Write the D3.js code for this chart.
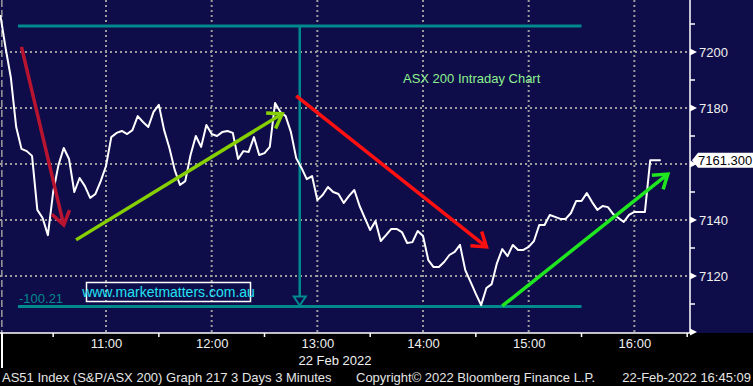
<!DOCTYPE html>
<html>
<head>
<meta charset="utf-8">
<script src="https://cdn.jsdelivr.net/npm/d3@7"></script>
<style>
  html, body { margin: 0; padding: 0; background: #000; }
  svg { display: block; font-family: "Liberation Sans", Arial, sans-serif; }
</style>
</head>
<body>
<div id="chart"></div>
<script>
const settings = {
  width: 753,
  height: 386,
  plot_right: 690,
  plot_bottom: 333,
  bg: "#0f0c4a",
  grid: "#9c9c9c",
  teal: "#008a8e",
}

// ASX 200, 3 minute closes from 10:00 on 22 Feb 2022
const startTime = "10:00";
const barMinutes = 3;
const closes = [
  7213.2, 7201.4, 7190.7, 7173.2, 7165.4, 7164.6, 7162.9, 7143.6, 7140.7, 7134.6,
  7150.0, 7159.6, 7165.7, 7161.8, 7150.0, 7155.0, 7152.1, 7147.9, 7149.3, 7153.9,
  7159.3, 7169.6, 7171.1, 7171.8, 7170.7, 7172.1, 7177.1, 7175.0, 7173.2, 7178.6,
  7181.1, 7172.1, 7165.7, 7157.9, 7152.5, 7153.9, 7163.2, 7170.0, 7166.1, 7173.9,
  7170.7, 7170.0, 7171.4, 7171.8, 7171.1, 7161.8, 7164.6, 7164.3, 7169.6, 7163.2,
  7163.9, 7166.1, 7181.8, 7178.6, 7177.1, 7171.4, 7162.1, 7158.6, 7154.6, 7155.7,
  7147.1, 7148.9, 7151.8, 7150.0, 7149.3, 7146.1, 7148.6, 7150.7, 7145.0, 7140.7,
  7136.4, 7139.6, 7132.5, 7134.6, 7136.8, 7136.8, 7135.7, 7131.8, 7132.1, 7136.1,
  7134.3, 7125.7, 7123.2, 7123.2, 7125.0, 7127.5, 7128.6, 7131.1, 7122.1, 7117.9,
  7113.6, 7109.6, 7115.7, 7117.1, 7124.6, 7129.6, 7127.1, 7131.1, 7129.3, 7129.3,
  7130.4, 7132.5, 7138.2, 7138.2, 7141.8, 7141.1, 7140.4, 7140.4, 7142.5, 7146.8,
  7146.8, 7149.6, 7146.4, 7143.6, 7145.0, 7144.6, 7142.1, 7140.7, 7139.3, 7141.8,
  7142.9, 7142.9, 7142.9, 7161.3, 7161.3, 7161.3
];
const lastPrice = "7161.300";

const timeLabels = ["11:00", "12:00", "13:00", "14:00", "15:00", "16:00"];
const halfHourTicks = ["10:30", "11:30", "12:30", "13:30", "14:30", "15:30", "16:30"];
const priceGrid = [7120, 7140, 7160, 7180, 7200];
const priceLabels = [7120, 7140, 7180, 7200]; // 7160 sits under the last price tag
const priceMinorTicks = [7110, 7130, 7150, 7170, 7190, 7210];
const dateLabel = "22 Feb 2022";

// range box: day high / low and the drop between them
const rangeHigh = 7209.30;
const rangeLow = 7109.09;
const rangeFrom = "10:10";
const rangeTo = "15:30";
const dropAt = "12:50";
const dropLabel = "-100.21";

// trend arrows [time, price] -> [time, price]
const arrows = [
  { from: ["10:12", 7201.8], to: ["10:36", 7138.2], color: "#b8142f" },
  { from: ["10:43", 7132.9], to: ["12:40", 7177.9], color: "#86cf00" },
  { from: ["12:48", 7184.3], to: ["14:36", 7130.4], color: "#ff1010" },
  { from: ["14:45", 7109.3], to: ["16:19", 7156.4], color: "#20e620" },
];

const chartTitle = "ASX 200 Intraday Chart";
const watermark = "www.marketmatters.com.au";
const footer = [
  "AS51 Index (S&P/ASX 200) Graph 217 3 Days 3 Minutes",
  "Copyright\u00a9 2022 Bloomberg Finance L.P.",
  "22-Feb-2022 16:45:09"
];

/****** helpers ********/
const toMin = function(t) {
  const p = t.split(":");
  return (+p[0] - 10) * 60 + (+p[1]);
}

const svg = d3.select("#chart").append("svg")
  .attr("width", settings.width)
  .attr("height", settings.height);

const x = d3.scaleLinear().domain([0, 391.6]).range([0.34, settings.plot_right]);
const y = d3.scaleLinear().domain([7100, 7218.57]).range([332, 0]);

// backgrounds
svg.append("rect").attr("width", settings.width).attr("height", settings.height).attr("fill", "#000");
svg.append("rect").attr("width", settings.width).attr("height", settings.plot_bottom).attr("fill", settings.bg);

// grid
const grid = svg.append("g");
grid.selectAll(".vg").data(timeLabels).join("line")
  .attr("x1", d => x(toMin(d))).attr("x2", d => x(toMin(d)))
  .attr("y1", 0).attr("y2", settings.plot_bottom)
  .attr("stroke", settings.grid).attr("stroke-width", 2).attr("stroke-dasharray", "2,3");
grid.selectAll(".hg").data(priceGrid).join("line")
  .attr("x1", 0).attr("x2", settings.plot_right)
  .attr("y1", d => y(d)).attr("y2", d => y(d))
  .attr("stroke", settings.grid).attr("stroke-width", 2).attr("stroke-dasharray", "2,3");
// day separator
grid.append("line")
  .attr("x1", x(toMin(startTime)) + 1.5).attr("x2", x(toMin(startTime)) + 1.5)
  .attr("y1", 0).attr("y2", settings.plot_bottom)
  .attr("stroke", settings.grid).attr("stroke-width", 1.5).attr("stroke-dasharray", "7,3");
svg.append("line")
  .attr("x1", 2).attr("x2", 2).attr("y1", settings.plot_bottom).attr("y2", 368)
  .attr("stroke", "#fff").attr("stroke-width", 2);

// range box lines
const teal = svg.append("g").attr("stroke", settings.teal).attr("fill", "none");
[rangeHigh, rangeLow].forEach(v => {
  teal.append("line")
    .attr("x1", x(toMin(rangeFrom))).attr("x2", x(toMin(rangeTo)))
    .attr("y1", y(v)).attr("y2", y(v)).attr("stroke-width", 3);
});
const dx = x(toMin(dropAt));
teal.append("line")
  .attr("x1", dx).attr("x2", dx).attr("y1", y(rangeHigh)).attr("y2", y(rangeLow) - 10)
  .attr("stroke-width", 2.5);
teal.append("path")
  .attr("d", `M${dx - 6},${y(rangeLow) - 10}L${dx + 6},${y(rangeLow) - 10}L${dx},${y(rangeLow) - 1}Z`)
  .attr("stroke-width", 2);
svg.append("text")
  .attr("x", 19).attr("y", y(rangeLow) - 4)
  .attr("fill", settings.teal).attr("font-size", 13)
  .text(dropLabel);

// price line
const line = d3.line()
  .x((d, i) => x(toMin(startTime) + i * barMinutes))
  .y(d => y(d));
svg.append("path")
  .datum(closes)
  .attr("d", line)
  .attr("fill", "none").attr("stroke", "#fff").attr("stroke-width", 2)
  .attr("stroke-linejoin", "round");

// arrows
const drawArrow = function(a) {
  const x1 = x(toMin(a.from[0])), y1 = y(a.from[1]);
  const x2 = x(toMin(a.to[0])), y2 = y(a.to[1]);
  const ang = Math.atan2(y2 - y1, x2 - x1);
  const len = 16, spread = 0.6;
  const g = svg.append("g").attr("stroke", a.color).attr("stroke-width", 3.5).attr("fill", "none");
  g.append("line").attr("x1", x1).attr("y1", y1).attr("x2", x2).attr("y2", y2);
  g.append("path")
    .attr("d", `M${x2 - len * Math.cos(ang - spread)},${y2 - len * Math.sin(ang - spread)}L${x2},${y2}L${x2 - len * Math.cos(ang + spread)},${y2 - len * Math.sin(ang + spread)}`)
    .attr("stroke-linejoin", "miter");
}
arrows.forEach(drawArrow);

// axes
svg.append("line")
  .attr("x1", 0).attr("x2", settings.plot_right)
  .attr("y1", settings.plot_bottom).attr("y2", settings.plot_bottom)
  .attr("stroke", "#fff").attr("stroke-width", 1.5);
svg.append("line")
  .attr("x1", settings.plot_right).attr("x2", settings.plot_right)
  .attr("y1", 0).attr("y2", settings.plot_bottom)
  .attr("stroke", "#fff").attr("stroke-width", 1.5);

const xAxis = d3.axisBottom(x)
  .tickValues(timeLabels.map(toMin))
  .tickFormat((d, i) => timeLabels[i])
  .tickSize(0).tickPadding(6);
const xg = svg.append("g").attr("transform", `translate(0,${settings.plot_bottom})`).call(xAxis);
xg.select(".domain").remove();
xg.selectAll("text").attr("fill", "#f0f0f0").attr("font-size", 13).attr("font-family", "Liberation Sans, Arial, sans-serif");

svg.selectAll(".hh").data(halfHourTicks).join("line")
  .attr("x1", d => x(toMin(d))).attr("x2", d => x(toMin(d)))
  .attr("y1", settings.plot_bottom).attr("y2", settings.plot_bottom + 4)
  .attr("stroke", "#fff").attr("stroke-width", 1.5);

svg.append("text")
  .attr("x", 335).attr("y", 365).attr("text-anchor", "middle")
  .attr("fill", "#f0f0f0").attr("font-size", 13)
  .text(dateLabel);

const yAxis = d3.axisRight(y).tickValues(priceLabels).tickFormat(d3.format("d")).tickSize(0).tickPadding(9);
const yg = svg.append("g").attr("transform", `translate(${settings.plot_right},0)`).call(yAxis);
yg.select(".domain").remove();
yg.selectAll("text").attr("fill", "#f0f0f0").attr("font-size", 13).attr("font-family", "Liberation Sans, Arial, sans-serif");

svg.selectAll(".tri").data(priceGrid.concat([7100])).join("path")
  .attr("d", d => `M${settings.plot_right},${y(d) - 3.5}L${settings.plot_right + 7},${y(d)}L${settings.plot_right},${y(d) + 3.5}Z`)
  .attr("fill", "#fff");
svg.selectAll(".ymin").data(priceMinorTicks).join("line")
  .attr("x1", settings.plot_right).attr("x2", settings.plot_right + 5)
  .attr("y1", d => y(d)).attr("y2", d => y(d))
  .attr("stroke", "#fff").attr("stroke-width", 1.5);

// last price tag
const ly = y(+lastPrice);
svg.append("path")
  .attr("d", `M${settings.plot_right + 2},${ly}L${settings.plot_right + 8},${ly - 7.5}L${settings.width},${ly - 7.5}L${settings.width},${ly + 7.5}L${settings.plot_right + 8},${ly + 7.5}Z`)
  .attr("fill", "#fff");
svg.append("text")
  .attr("x", settings.plot_right + 8).attr("y", ly + 5)
  .attr("fill", "#000").attr("font-size", 13)
  .text(lastPrice);

// labels
svg.append("text")
  .attr("x", 403).attr("y", 83)
  .attr("fill", "#8cf08c").attr("font-size", 13)
  .text(chartTitle);

svg.append("rect")
  .attr("x", 86.5).attr("y", 282.5).attr("width", 164).attr("height", 19)
  .attr("fill", "none").attr("stroke", "#fff").attr("stroke-width", 1.5);
svg.append("text")
  .attr("x", 168.5).attr("y", 297).attr("text-anchor", "middle")
  .attr("fill", "#22e4f2").attr("font-size", 14)
  .text(watermark);

// footer
svg.append("text").attr("x", 2).attr("y", 382).attr("fill", "#e6e6e6").attr("font-size", 13).text(footer[0]);
svg.append("text").attr("x", 356).attr("y", 382).attr("fill", "#e6e6e6").attr("font-size", 13).text(footer[1]);
svg.append("text").attr("x", 751).attr("y", 382).attr("text-anchor", "end").attr("fill", "#e6e6e6").attr("font-size", 13).text(footer[2]);
</script>
</body>
</html>
